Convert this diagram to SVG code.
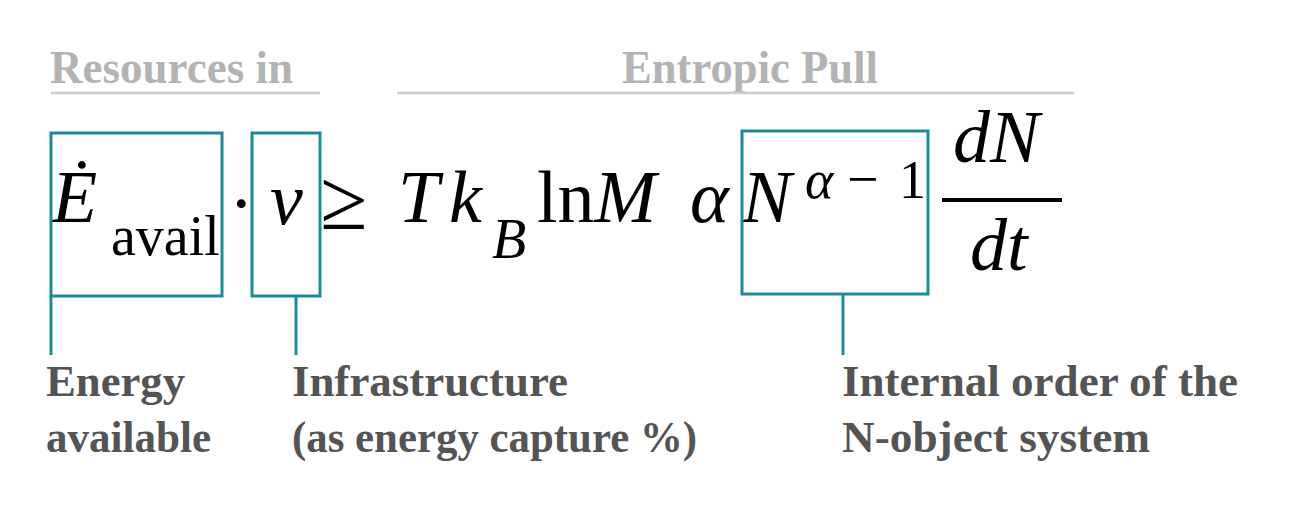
<svg xmlns="http://www.w3.org/2000/svg" width="1308" height="510" viewBox="0 0 1308 510">
  <style>
    .hdr { font-family: "Liberation Serif", "DejaVu Serif", serif; font-weight: bold; font-size: 46px; fill: #b3b3b3; }
    .rule { stroke: #cccccc; stroke-width: 2.5; fill: none; }
    .box { fill: none; stroke: #1f8a98; stroke-width: 3; }
    .conn { stroke: #1f8a98; stroke-width: 3; fill: none; }
    .m { font-family: "Liberation Serif", "DejaVu Serif", serif; font-size: 74px; fill: #000000; }
    .it { font-style: italic; }
    .sub { font-size: 56px; }
    .sup { font-size: 54px; }
    .subB { font-size: 56px; }
    .geq { font-size: 86px; }
    .lbl { font-family: "Liberation Serif", "DejaVu Serif", serif; font-weight: bold; font-size: 44px; fill: #545454; }
  </style>
  <rect x="0" y="0" width="1308" height="510" fill="#ffffff"/>

  <g id="header-resources">
    <text class="hdr" x="50" y="83" textLength="243" lengthAdjust="spacingAndGlyphs">Resources in</text>
    <line class="rule" x1="51" y1="93" x2="320" y2="93"/>
  </g>
  <g id="header-entropic">
    <text class="hdr" x="622" y="83" textLength="256" lengthAdjust="spacingAndGlyphs">Entropic Pull</text>
    <line class="rule" x1="397" y1="93" x2="1074" y2="93"/>
  </g>

  <g id="equation">
    <text class="m it" x="52" y="222">Ė</text>
    <text class="m sub" x="111" y="255">avail</text>
    <text class="m" x="229" y="228">·</text>
    <text class="m it" x="270" y="224">ν</text>
    <text class="m geq" x="320" y="229">≥</text>
    <text class="m it" x="398" y="222">T</text>
    <text class="m it" x="449" y="222">k</text>
    <text class="m it subB" x="492" y="258">B</text>
    <text class="m" x="537" y="222">ln<tspan font-style="italic">M</tspan></text>
    <text class="m it" x="690" y="222">α</text>
    <text class="m it" x="742" y="222">N</text>
    <text class="m it sup" x="805" y="198">α</text>
    <text class="m sub" x="847" y="198">−</text>
    <text class="m sup" x="899" y="198">1</text>
    <text class="m it" x="953" y="162">dN</text>
    <line x1="942" y1="200" x2="1062" y2="200" stroke="#000000" stroke-width="4"/>
    <text class="m it" x="970" y="270">dt</text>
  </g>

  <g id="node-energy">
    <rect class="box" x="51" y="133" width="171" height="163"/>
    <text class="lbl" x="46" y="396" textLength="139" lengthAdjust="spacingAndGlyphs">Energy</text>
    <text class="lbl" x="46" y="452" textLength="165" lengthAdjust="spacingAndGlyphs">available</text>
  </g>
  <g id="node-infrastructure">
    <rect class="box" x="252" y="133" width="68" height="163"/>
    <text class="lbl" x="292" y="396" textLength="276" lengthAdjust="spacingAndGlyphs">Infrastructure</text>
    <text class="lbl" x="292" y="452" textLength="405" lengthAdjust="spacingAndGlyphs">(as energy capture %)</text>
  </g>
  <g id="node-order">
    <rect class="box" x="742" y="131" width="186" height="163"/>
    <text class="lbl" x="842" y="396" textLength="396" lengthAdjust="spacingAndGlyphs">Internal order of the</text>
    <text class="lbl" x="842" y="452" textLength="308" lengthAdjust="spacingAndGlyphs">N-object system</text>
  </g>

  <g id="connectors">
    <line class="conn" x1="51" y1="296" x2="51" y2="355"/>
    <line class="conn" x1="296" y1="296" x2="296" y2="355"/>
    <line class="conn" x1="843" y1="294" x2="843" y2="355"/>
  </g>
</svg>
